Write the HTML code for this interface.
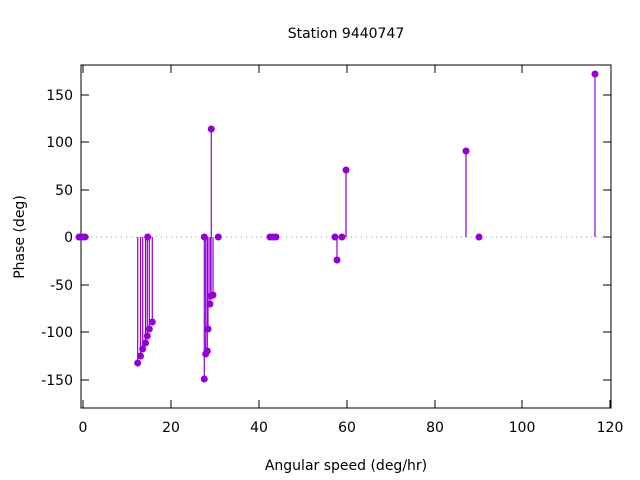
<!DOCTYPE html>
<html><head><style>body{margin:0;background:#fff}svg{display:block;font-family:"DejaVu Sans","Liberation Sans",sans-serif}</style></head><body>
<svg width="640" height="480" viewBox="0 0 640 480">
<rect width="640" height="480" fill="#fff"/>
<text x="346" y="38" font-size="14" text-anchor="middle">Station 9440747</text>
<line x1="81" y1="237" x2="611" y2="237" stroke="#a0a0a0" stroke-dasharray="1,4"/>
<g stroke="#000" fill="none">
<rect x="81" y="65" width="530" height="343"/>
<path d="M81 95h8M81 142h8M81 190h8M81 237h8M81 285h8M81 332h8M81 380h8M611 95h-8M611 142h-8M611 190h-8M611 237h-8M611 285h-8M611 332h-8M611 380h-8"/>
<path d="M83 408v-8M171 408v-8M259 408v-8M347 408v-8M435 408v-8M522 408v-8M610 408v-8M83 65v8M171 65v8M259 65v8M347 65v8M435 65v8M522 65v8"/>
</g>
<g font-size="14" text-anchor="end">
<text x="73" y="100">150</text><text x="73" y="147">100</text><text x="73" y="195">50</text><text x="73" y="242">0</text><text x="73" y="290">-50</text><text x="73" y="337">-100</text><text x="73" y="385">-150</text>
</g>
<g font-size="14" text-anchor="middle">
<text x="83" y="432">0</text><text x="171" y="432">20</text><text x="259" y="432">40</text><text x="347" y="432">60</text><text x="435" y="432">80</text><text x="522" y="432">100</text><text x="610" y="432">120</text>
<text x="346" y="470">Angular speed (deg/hr)</text>
<text transform="translate(24,237) rotate(-90)">Phase (deg)</text>
</g>
<g stroke="#9400d3" stroke-width="1.2">
<path d="M137.7 237V363M140.5 237V356M142.7 237V349M145.5 237V343M147.3 237V336M149.3 237V329M152.3 237V322"/>
<path d="M204.3 237V379M205.7 237V354M207.3 237V351M208 237V329M210 237V304M211 237V296M213 237V295M211.3 237V129"/>
<path d="M337 237V260M346 237V170M466 237V151M595 237V74"/>
</g>
<g fill="#9400d3">
<circle cx="79" cy="237" r="3.5"/><circle cx="82" cy="237" r="3.5"/><circle cx="85" cy="237" r="3.5"/>
<circle cx="137.7" cy="363" r="3.5"/><circle cx="140.5" cy="356" r="3.5"/><circle cx="142.7" cy="349" r="3.5"/><circle cx="145.5" cy="343" r="3.5"/><circle cx="147.3" cy="336" r="3.5"/><circle cx="149.3" cy="329" r="3.5"/><circle cx="152.3" cy="322" r="3.5"/><circle cx="147.7" cy="237" r="3.5"/>
<circle cx="204.3" cy="379" r="3.5"/><circle cx="205.7" cy="354" r="3.5"/><circle cx="207.3" cy="351" r="3.5"/><circle cx="208" cy="329" r="3.5"/><circle cx="210" cy="304" r="3.5"/><circle cx="211" cy="296" r="3.5"/><circle cx="213" cy="295" r="3.5"/><circle cx="211.3" cy="129" r="3.5"/><circle cx="204.3" cy="237" r="3.5"/><circle cx="218.3" cy="237" r="3.5"/>
<circle cx="270" cy="237" r="3.5"/><circle cx="273" cy="237" r="3.5"/><circle cx="276" cy="237" r="3.5"/>
<circle cx="335" cy="237" r="3.5"/><circle cx="337" cy="260" r="3.5"/><circle cx="342" cy="237" r="3.5"/><circle cx="346" cy="170" r="3.5"/>
<circle cx="466" cy="151" r="3.5"/><circle cx="479" cy="237" r="3.5"/><circle cx="595" cy="74" r="3.5"/>
</g>
</svg>
</body></html>
